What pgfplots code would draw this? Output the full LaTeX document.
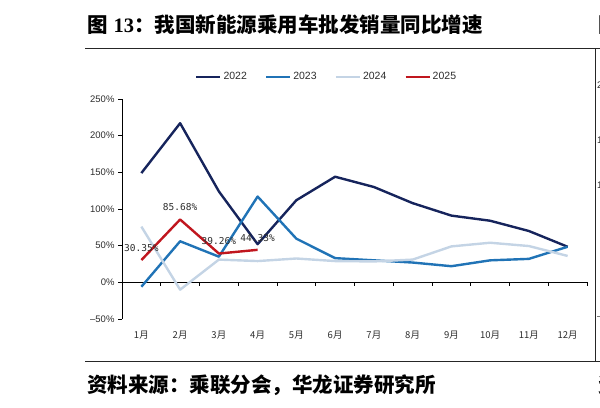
\documentclass[border=0pt]{standalone}
\usepackage{fontspec}
\usepackage{pgfplots}
\pgfplotsset{compat=1.18}
\setmainfont{Liberation Sans}
\newfontfamily\cjk{Noto Sans CJK SC}
\newfontfamily\tnr{Liberation Serif}
\newfontfamily\mono{DejaVu Sans Mono}

\definecolor{c22}{RGB}{22,36,92}
\definecolor{c23}{RGB}{32,115,182}
\definecolor{c24}{RGB}{196,212,229}
\definecolor{c25}{RGB}{192,22,30}
\definecolor{txt}{RGB}{45,45,45}

\begin{document}
\begin{tikzpicture}[x=1bp,y=1bp]
\useasboundingbox (0,0) rectangle (600,407);
% page frame
\draw[line width=1bp, black!85] (85,359) -- (600,359);
\draw[line width=1bp, black!85] (85,46) -- (600,46);
\draw[line width=1bp, black!85] (595,359) -- (595,46);
\node[anchor=west, inner sep=0] at (87,382)
  {\fontsize{20.5bp}{24bp}\selectfont\cjk\bfseries 图\hspace{6bp}{\tnr\bfseries 13}：我国新能源乘用车批发销量同比增速};
\node[anchor=west, inner sep=0] at (87,22)
  {\fontsize{20.5bp}{24bp}\selectfont\cjk\bfseries 资料来源：乘联分会，华龙证券研究所};
% fragments of the neighbouring chart
\node[anchor=west, inner sep=0] at (598,382) {\fontsize{20.5bp}{24bp}\selectfont\cjk\bfseries 图};
\node[anchor=west, inner sep=0] at (598,22) {\fontsize{20.5bp}{24bp}\selectfont\cjk\bfseries 资};
\begin{scope}[font=\fontsize{9.5bp}{11bp}\selectfont, text=txt]
\node[anchor=west, inner sep=0] at (597,322) {2};
\node[anchor=west, inner sep=0] at (597,267) {1};
\node[anchor=west, inner sep=0] at (597,222) {1};
\node[anchor=west, inner sep=0] at (597,89) {\textendash};
\end{scope}

\begin{axis}[
  at={(122bp,88bp)}, anchor=south west,
  width=465bp, height=220bp, scale only axis,
  xmin=0.5, xmax=12.5, ymin=-50, ymax=250,
  axis y line*=left, axis x line*=bottom,
  x axis line style={draw=none},
  xtick={1,...,12},
  xticklabels={1月,2月,3月,4月,5月,6月,7月,8月,9月,10月,11月,12月},
  xtick style={draw=none},
  ytick={-50,0,50,100,150,200,250},
  yticklabels={\textendash50\%,0\%,50\%,100\%,150\%,200\%,250\%},
  tick align=outside, major tick length=4bp,
  every tick/.style={black, line width=0.8bp},
  axis line style={line width=0.8bp, black},
  yticklabel style={font=\fontsize{9.5bp}{11bp}\selectfont, text=txt},
  xticklabel style={font=\fontsize{9.5bp}{11bp}\selectfont\cjk, text=txt, yshift=-4bp},
  legend style={draw=none, fill=none, at={(0.44,1.1)}, anchor=center,
    legend columns=4, font=\fontsize{10.5bp}{12bp}\selectfont, text=txt,
    /tikz/every even column/.append style={column sep=16bp}},
  legend image code/.code={\draw[#1, line width=2.4bp] (0bp,0bp) -- (24bp,0bp);},
  clip=false,
  every axis plot/.append style={line width=2.4bp, line join=round, no markers},
]
\draw[line width=0.8bp, black] (axis cs:0.5,0) -- (axis cs:12.5,0);
\pgfplotsinvokeforeach{1,...,12}{\draw[line width=0.8bp, black] (axis cs:#1.5,0) -- ++(0bp,-4bp);}

\addplot[c22] coordinates {(1,149) (2,217) (3,124) (4,52) (5,112) (6,144) (7,130) (8,108) (9,91) (10,84) (11,70) (12,48.5)};
\addlegendentry{2022}
\addplot[c23] coordinates {(1,-6) (2,56) (3,35) (4,117) (5,59.5) (6,33) (7,30) (8,27) (9,22) (10,30) (11,32) (12,48.5)};
\addlegendentry{2023}
\addplot[c24] coordinates {(1,76) (2,-10) (3,31) (4,29) (5,32.5) (6,29) (7,28.5) (8,31) (9,49) (10,54) (11,49.5) (12,36)};
\addlegendentry{2024}
\addplot[c25, point meta=explicit symbolic, nodes near coords,
  nodes near coords style={anchor=south, yshift=4bp, font=\fontsize{9.5bp}{11bp}\selectfont\mono, text=txt}]
  coordinates {(1,30.35) [30.35\%] (2,85.68) [85.68\%] (3,39.26) [39.26\%] (4,44.33) [44.33\%]};
\addlegendentry{2025}
\end{axis}
\end{tikzpicture}
\end{document}
